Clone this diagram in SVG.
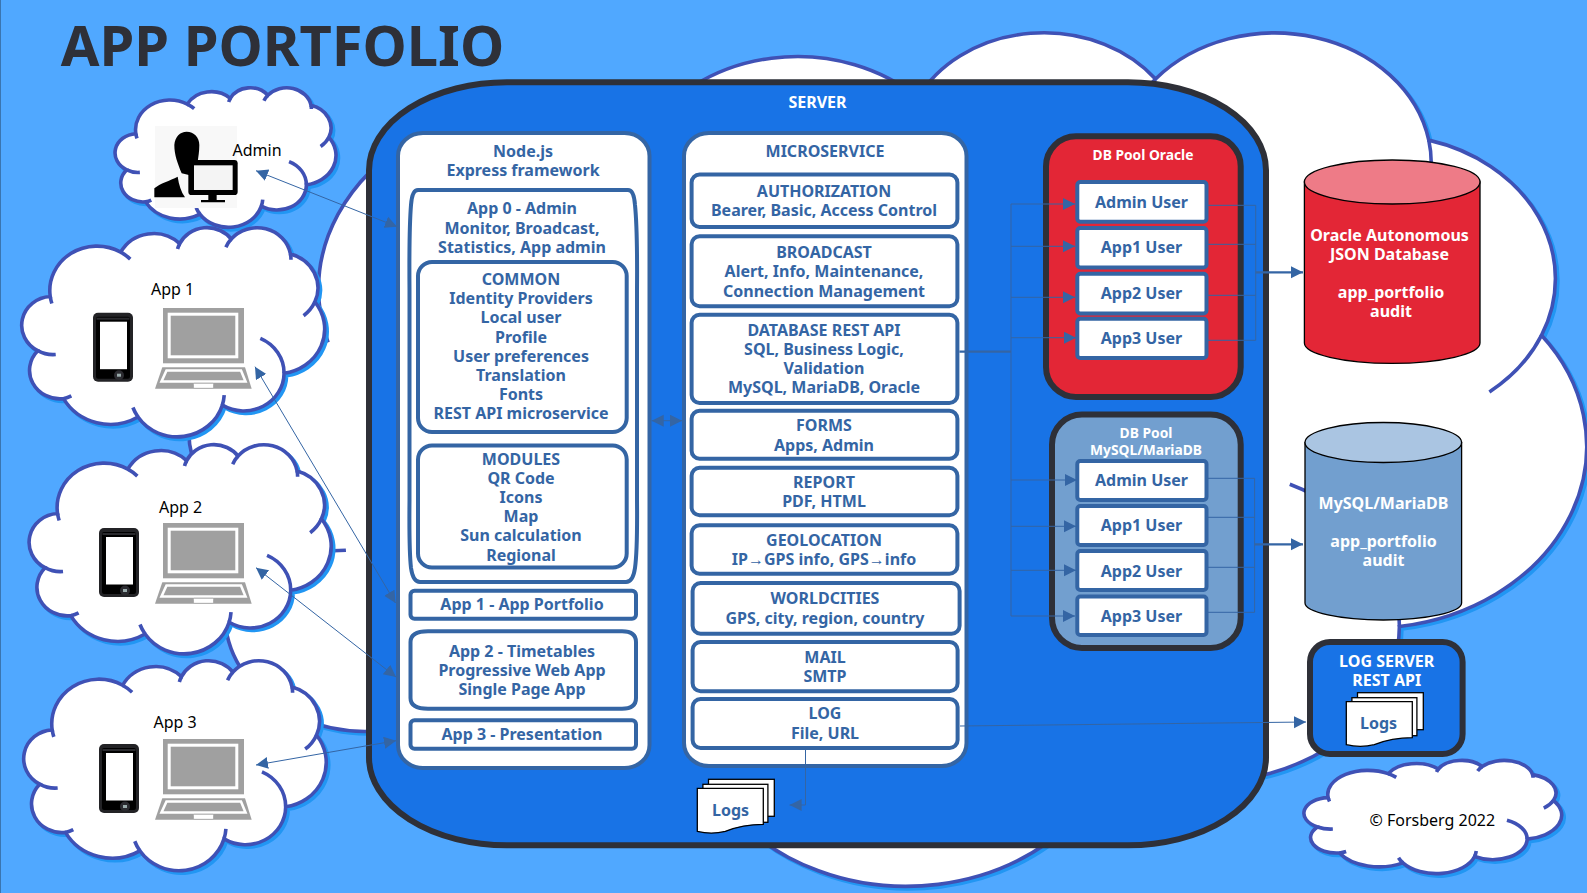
<svg xmlns="http://www.w3.org/2000/svg" xmlns:xlink="http://www.w3.org/1999/xlink" width="1587" height="893" viewBox="0 0 1587 893">
<style>
text{font-family:"Noto Sans","Liberation Sans",sans-serif;text-anchor:middle;font-weight:700;font-size:16px;fill:#3465a4}
.w{fill:#fff}.k{fill:#000;font-weight:400;font-size:16px;text-anchor:start}
.b{fill:#fff;stroke:#3465a4;stroke-width:4}
.d{stroke:#2e3038;stroke-width:6}
.cl{fill:#fff;stroke:#3f51b5;stroke-width:3.6}
.sh{fill:#2196f3;stroke:#2196f3;stroke-width:3.6}
.c{fill:none;stroke:#3465a4;stroke-width:1}
.c2{fill:none;stroke:#3465a4;stroke-width:2.2}
.doc{fill:#fff;stroke:#000;stroke-width:1.3}
.cyl{stroke:#000;stroke-width:1.3}
</style>
<defs>
<path id="co" vector-effect="non-scaling-stroke" d="M3900 14370A6753 9190 0 0 1 14003 5201A5333 7267 0 0 1 22453 3431A4365 5945 0 0 1 29830 2481A4857 6595 0 0 1 38316 5576A5333 7273 0 0 1 41817 15460A6775 9220 0 0 1 37403 30204A5785 7867 0 0 1 28553 36813A6752 9215 0 0 1 16478 39266A7720 10543 0 0 1 5802 35473A4360 5918 0 0 1 2112 25550A4345 5945 0 0 1 3900 14370Z"/>
<path id="ca" vector-effect="non-scaling-stroke" fill="none" d="M41817 15460A5333 7273 0 0 1 40198 18325M38316 5576A4857 6595 0 0 1 38393 6745M29065 4168A4857 6595 0 0 1 29830 2481M22143 4546A4365 5945 0 0 1 22453 3431M14003 5201A6753 9190 0 0 1 15366 6634M4133 15819A6753 9190 0 0 1 3900 14370M4687 26342A4345 5945 0 0 1 2112 25550M6928 34899A4360 5918 0 0 1 5802 35473M16478 39266A6752 9215 0 0 1 15746 37295M28827 34751A6752 9215 0 0 1 28553 36813M34000 23000A5785 7867 0 0 1 37403 30204"/>
<g id="cs" class="sh"><use href="#co"/><use href="#ca"/></g>
<g id="cm" class="cl"><use href="#co"/><use href="#ca"/></g>
<marker id="a" markerUnits="userSpaceOnUse" markerWidth="14" markerHeight="14" refX="12" refY="6" orient="auto-start-reverse"><path d="M0 0L12 6L0 12Z" fill="#3465a4"/></marker>
<g id="laptop">
<rect x="163" y="308" width="81" height="55.3" fill="#a0a0a0"/>
<rect x="169.200" y="314.200" width="67.600" height="42.600" fill="#a0a0a0" stroke="#fff" stroke-width="3"/>
<path d="M162.300 367.300H245L251.700 388.700H155Z" fill="#a0a0a0"/>
<path d="M166.500 370.500H241L245.500 381.500H161.500Z" fill="#a0a0a0" stroke="#fff" stroke-width="2.600"/>
<rect x="193.500" y="383.300" width="20" height="5" rx="1" fill="#fff" stroke="#a0a0a0" stroke-width=".7"/>
</g>
<g id="phone">
<rect x="0" y="0" width="40" height="69" rx="5" fill="#232326"/>
<rect x="3" y="4" width="34" height="62" rx="2" fill="#000"/>
<rect x="3.500" y="5" width="33" height="2" fill="#2a2a2e"/>
<rect x="7" y="9" width="27" height="47.500" fill="#fff"/>
<circle cx="26" cy="62.500" r="5" fill="#2b2b30"/><rect x="24" y="61" width="4" height="3" fill="#9aa"/>
</g>
<g id="docs">
<rect x="11.200" y="-9" width="65.800" height="37" class="doc"/>
<rect x="5.600" y="-4" width="65" height="38" class="doc"/>
<path d="M0 0H66V36C48 36 38 39 28 43C18 45.500 8 45 0 43Z" class="doc"/>
</g>
</defs>

<rect width="1587" height="893" fill="#50a8ff"/>
<rect x="0" y="0" width="1" height="893" fill="#3a75b0"/>

<g id="big-cloud"><use href="#cs" transform="translate(197.500 32.500) scale(.0322 .01975)"/><use href="#cm" transform="translate(195 30) scale(.0322 .01975)"/></g>

<text x="282.500" y="66" style="font-size:56px;font-weight:700;fill:#2e3038">APP PORTFOLIO</text>

<g id="admin-cloud"><use href="#cs" transform="translate(118.500 89.800) scale(.00509 .00323)"/><use href="#cm" transform="translate(116 87.300) scale(.00509 .00323)"/>
<rect x="155" y="126" width="82" height="82" fill="#f8f8f8"/>
<g transform="translate(145 120) scale(.3333)">
<path d="M88 75C90 50 105 35 125 35C147 35 163 52 163 75C163 95 160 110 158 125L133 135L132 165L110 160C98 130 88 105 88 75Z" fill="#000"/>
<path d="M28 232V205C45 190 75 182 98 170C102 195 108 215 120 232Z" fill="#000"/>
<rect x="130" y="120" width="148" height="105" rx="10" fill="#000"/>
<rect x="147" y="136" width="116" height="74" fill="#f4f4f4"/>
<path d="M190 225H215V240H240V247H168V240H190Z" fill="#000"/>
</g>
<text class="k" x="232.500" y="156">Admin</text></g>

<g id="app1-cloud"><use href="#cs" transform="translate(25.500 229.500) scale(.00698 .00484)"/><use href="#cm" transform="translate(23 227) scale(.00698 .00484)"/>
<use href="#phone" transform="translate(93 312.700)"/><use href="#laptop"/>
<text class="k" x="151" y="295">App 1</text></g>
<g id="app2-cloud"><use href="#cs" transform="translate(32.900 446.500) scale(.00696 .00484)"/><use href="#cm" transform="translate(30.400 444) scale(.00696 .00484)"/>
<use href="#phone" transform="translate(99 528)"/><use href="#laptop" y="215"/>
<text class="k" x="159" y="513">App 2</text></g>
<g id="app3-cloud"><use href="#cs" transform="translate(27.500 662.500) scale(.00697 .00486)"/><use href="#cm" transform="translate(25 660) scale(.00697 .00486)"/>
<use href="#phone" transform="translate(99 744)"/><use href="#laptop" y="431"/>
<text class="k" x="153.500" y="728">App 3</text></g>
<g id="copyright-cloud"><use href="#cs" transform="translate(1307.500 762.500) scale(.00594 .00262)"/><use href="#cm" transform="translate(1305 760) scale(.00594 .00262)"/>
<text class="k" x="1369.500" y="826">© Forsberg 2022</text></g>

<g id="server"><rect x="369" y="82.300" width="897" height="763" rx="138" ry="88" fill="#1873e6" class="d"/>
<text class="w" x="817.500" y="108.300">SERVER</text></g>

<g id="nodejs">
<rect x="398" y="133" width="251.500" height="635" rx="25" ry="23" class="b"/>
<text x="523" y="156.700">Node.js</text><text x="523" y="175.700">Express framework</text>
</g>
<g id="app0">
<path class="b" d="M418 190H628Q634 190 635 205Q637.500 230 637 290V500Q637.500 550 635 568Q633 582 626 582H420Q413 582 411 568Q409 550 409.500 500V290Q409 230 411 205Q412 190 418 190Z"/>
<text x="522" y="214">App 0 - Admin</text><text x="522" y="233.700">Monitor, Broadcast,</text><text x="522" y="253">Statistics, App admin</text>
</g>
<g id="common">
<rect x="418" y="262" width="208.700" height="170" rx="14" class="b"/>
<text x="521" y="285">COMMON</text><text x="521" y="304">Identity Providers</text><text x="521" y="323.300">Local user</text><text x="521" y="342.700">Profile</text><text x="521" y="361.700">User preferences</text><text x="521" y="381">Translation</text><text x="521" y="400">Fonts</text><text x="521" y="419.300">REST API microservice</text>
</g>
<g id="modules">
<rect x="418" y="445.500" width="208.700" height="122" rx="14" class="b"/>
<text x="521" y="465">MODULES</text><text x="521" y="484.300">QR Code</text><text x="521" y="503.300">Icons</text><text x="521" y="522.300">Map</text><text x="521" y="541.300">Sun calculation</text><text x="521" y="561">Regional</text>
</g>
<g id="app1"><rect x="410.500" y="590.700" width="225.500" height="28" rx="4" class="b"/><text x="522" y="610">App 1 - App Portfolio</text></g>
<g id="app2">
<path class="b" d="M410.500 642Q410.500 631.300 428 631.300H622Q636 631.300 636 642V698Q636 708.700 622 708.700H428Q410.500 708.700 410.500 698Z"/>
<text x="522" y="657.300">App 2 - Timetables</text><text x="522" y="676.300">Progressive Web App</text><text x="522" y="695.300">Single Page App</text></g>
<g id="app3"><rect x="410.500" y="720.300" width="225.500" height="28.400" rx="4" class="b"/><text x="522" y="740">App 3 - Presentation</text></g>

<g id="microservice">
<rect x="684" y="133" width="282.500" height="633" rx="25" ry="23" class="b"/>
<text x="825" y="156.700">MICROSERVICE</text>
</g>
<g id="authorization"><rect x="691.600" y="174.500" width="265.800" height="52.500" rx="8" class="b"/><text x="824" y="197.300">AUTHORIZATION</text><text x="824" y="216.300">Bearer, Basic, Access Control</text></g>
<g id="broadcast"><rect x="691.600" y="236.300" width="265.800" height="70" rx="8" class="b"/><text x="824" y="258.300">BROADCAST</text><text x="824" y="277.300">Alert, Info, Maintenance,</text><text x="824" y="296.700">Connection Management</text></g>
<g id="database"><rect x="691.600" y="314.700" width="265.800" height="88.300" rx="8" class="b"/><text x="824" y="336">DATABASE REST API</text><text x="824" y="355">SQL, Business Logic,</text><text x="824" y="374">Validation</text><text x="824" y="393.300">MySQL, MariaDB, Oracle</text></g>
<g id="forms"><rect x="691.600" y="410.700" width="265.800" height="48" rx="8" class="b"/><text x="824" y="431">FORMS</text><text x="824" y="450.700">Apps, Admin</text></g>
<g id="report"><rect x="691.600" y="467.800" width="265.800" height="47.500" rx="8" class="b"/><text x="824" y="488.300">REPORT</text><text x="824" y="507.300">PDF, HTML</text></g>
<g id="geolocation"><rect x="691.600" y="525.300" width="265.800" height="48.400" rx="8" class="b"/><text x="824" y="546">GEOLOCATION</text><text x="824" y="565">IP→GPS info, GPS→info</text></g>
<g id="worldcities"><rect x="692.600" y="583" width="267" height="50.700" rx="8" class="b"/><text x="825" y="604">WORLDCITIES</text><text x="825" y="624.300">GPS, city, region, country</text></g>
<g id="mail"><rect x="692.600" y="642" width="265" height="49.300" rx="8" class="b"/><text x="825" y="663.300">MAIL</text><text x="825" y="682.300">SMTP</text></g>
<g id="log"><rect x="692.600" y="699" width="265" height="49" rx="8" class="b"/><text x="825" y="719">LOG</text><text x="825" y="739.300">File, URL</text></g>

<g id="logs-local"><use href="#docs" transform="translate(697.300 788.300)"/><text x="730.500" y="816">Logs</text></g>

<g id="pool-oracle">
<rect x="1046" y="136.300" width="194.700" height="260.700" rx="30" fill="#e32636" class="d"/>
<text class="w" x="1143" y="160.300" style="font-size:13.800px">DB Pool Oracle</text>
<rect x="1077.300" y="182" width="129.200" height="39.700" rx="3" class="b"/><text x="1141.500" y="208.300">Admin User</text>
<rect x="1077.300" y="228" width="129.200" height="39.500" rx="3" class="b"/><text x="1141.500" y="253.300">App1 User</text>
<rect x="1077.300" y="273.800" width="129.200" height="39.600" rx="3" class="b"/><text x="1141.500" y="299.300">App2 User</text>
<rect x="1077.300" y="318.800" width="129.200" height="39.200" rx="3" class="b"/><text x="1141.500" y="344.300">App3 User</text>
</g>
<g id="pool-mysql">
<rect x="1052" y="414.500" width="188.700" height="233.500" rx="30" fill="#729fcf" class="d"/>
<text class="w" x="1146" y="438.300" style="font-size:13.800px">DB Pool</text><text class="w" x="1146" y="455.300" style="font-size:13.800px">MySQL/MariaDB</text>
<rect x="1077.300" y="461" width="129.200" height="39" rx="3" class="b"/><text x="1141.500" y="486">Admin User</text>
<rect x="1077.300" y="506" width="129.200" height="39" rx="3" class="b"/><text x="1141.500" y="531">App1 User</text>
<rect x="1077.300" y="551" width="129.200" height="39" rx="3" class="b"/><text x="1141.500" y="577">App2 User</text>
<rect x="1077.300" y="596.500" width="129.200" height="38.500" rx="3" class="b"/><text x="1141.500" y="621.700">App3 User</text>
</g>

<g id="oracle-db">
<path class="cyl" fill="#e32636" d="M1304.400 182V343C1304.400 354 1343 363.300 1392 363.300S1480 354 1480 343V182Z"/>
<ellipse class="cyl" cx="1392.200" cy="182" rx="87.800" ry="22" fill="#ee7b87"/>
<text class="w" x="1389.500" y="240.700">Oracle Autonomous</text><text class="w" x="1389.500" y="260">JSON Database</text><text class="w" x="1391" y="297.700">app_portfolio</text><text class="w" x="1391" y="316.700">audit</text>
</g>
<g id="mysql-db">
<path class="cyl" fill="#729fcf" d="M1305 442.500V603C1305 612 1340 620 1383.300 620S1461.600 612 1461.600 603V442.500Z"/>
<ellipse class="cyl" cx="1383.300" cy="442.500" rx="78.300" ry="20" fill="#aac5e2"/>
<text class="w" x="1383.500" y="509">MySQL/MariaDB</text><text class="w" x="1383.500" y="547">app_portfolio</text><text class="w" x="1383.500" y="566">audit</text>
</g>
<g id="log-server">
<rect x="1310" y="642" width="152.600" height="112" rx="20" fill="#1873e6" class="d"/>
<text class="w" x="1386.700" y="666.700">LOG SERVER</text><text class="w" x="1386.700" y="685.700">REST API</text>
<use href="#docs" transform="translate(1346.300 701.700)"/><text x="1378.500" y="729">Logs</text>
</g>

<g id="connectors">
<path class="c2" d="M959.400 351.700H1011"/>
<path class="c" d="M1011 204V616"/>
<path class="c" marker-end="url(#a)" d="M1011 204H1075"/>
<path class="c" marker-end="url(#a)" d="M1011 246.300H1075"/>
<path class="c" marker-end="url(#a)" d="M1011 297.300H1075"/>
<path class="c" marker-end="url(#a)" d="M1011 337.700H1076"/>
<path class="c" marker-end="url(#a)" d="M1011 480H1077"/>
<path class="c" marker-end="url(#a)" d="M1011 526.300H1076"/>
<path class="c" marker-end="url(#a)" d="M1011 570.300H1076"/>
<path class="c" marker-end="url(#a)" d="M1011 616H1075"/>
<path class="c" d="M1208 205.300H1255.700V340.300H1208M1208 244.300H1255.700M1208 295.300H1255.700"/>
<path class="c2" marker-end="url(#a)" d="M1255.700 272.300H1303"/>
<path class="c" d="M1208 478.300H1254.600V612.300H1208M1208 517.300H1254.600M1208 567.300H1254.600"/>
<path class="c2" marker-end="url(#a)" d="M1254.600 544.300H1303"/>
<path class="c" marker-end="url(#a)" d="M960 726L1306 722"/>
<path class="c" marker-end="url(#a)" d="M805.500 750V805H789.600"/>
<path class="c" marker-start="url(#a)" marker-end="url(#a)" d="M651.700 420.700H682"/>
<path class="c" marker-start="url(#a)" marker-end="url(#a)" d="M256 170.700L397 226.700"/>
<path class="c" marker-start="url(#a)" marker-end="url(#a)" d="M255 366.700L395.500 603"/>
<path class="c" marker-start="url(#a)" marker-end="url(#a)" d="M256 567.700L396 677"/>
<path class="c" marker-start="url(#a)" marker-end="url(#a)" d="M256 765L396 740.700"/>
</g>
</svg>
